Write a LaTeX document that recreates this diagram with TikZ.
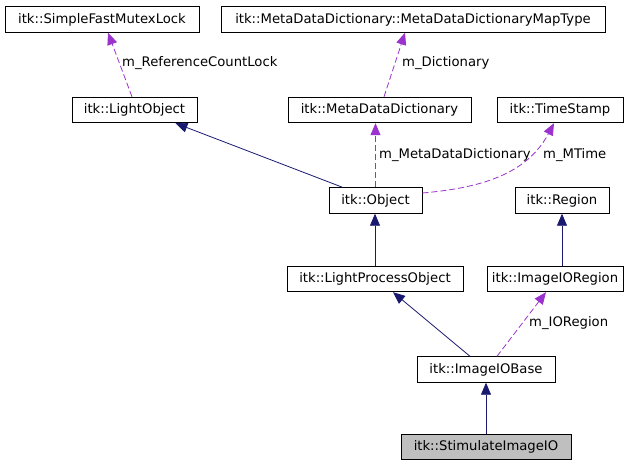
\documentclass[tikz,border=0pt]{standalone}
\usepackage{fontspec}
\setmainfont{DejaVu Sans}
\usetikzlibrary{
    positioning,      % relative placement
    arrows.meta,      % Triangle tips
    calc              % shifted anchors
}
\definecolor{inheritnavy}{HTML}{191970}
\definecolor{usagepurple}{HTML}{9A32CD}
\definecolor{focusgray}{HTML}{BFBFBF}

\begin{document}
\begin{tikzpicture}[
    x=1pt, y=-1pt,
    % Style for the class boxes
    class_box/.style={
        draw=black,
        line width=0.9pt,
        inner sep=0pt,
        minimum height=25.5pt,
        font=\fontsize{13.2}{16}\selectfont
    },
    % Style for the class the diagram is about
    focus_box/.style={
        class_box,
        fill=focusgray
    },
    % Style for inheritance arrows
    inherit_arrow/.style={
        draw=inheritnavy,
        line width=0.8pt,
        -{Triangle[length=12pt, width=10pt]}
    },
    % Style for member (usage) arrows
    usage_arrow/.style={
        draw=usagepurple,
        line width=0.8pt,
        dash pattern=on 6pt off 3pt,
        -{Triangle[length=12pt, width=10pt]}
    },
    % Style for the member names
    member_label/.style={
        anchor=west,
        inner sep=0pt,
        font=\fontsize{13.2}{16}\selectfont
    }
]
    \useasboundingbox (0,0) rectangle (641,464);

    % 1. The class boxes, row by row.
    \node[class_box, minimum width=194pt] (mutex_lock) at (102,19.5) {itk::SimpleFastMutexLock};
    \node[class_box, minimum width=384pt] (dict_map_type) at (413,19.5) {itk::MetaDataDictionary::MetaDataDictionaryMapType};

    \node[class_box, minimum width=125pt] (light_object) at (134.5,110) {itk::LightObject};
    \node[class_box, minimum width=183pt] (meta_dict) at (379.5,110) {itk::MetaDataDictionary};
    \node[class_box, minimum width=126pt] (time_stamp) at (560,110) {itk::TimeStamp};

    \node[class_box, minimum width=93pt] (itk_object) at (375.5,200.5) {itk::Object};
    \node[class_box, minimum width=94pt] (itk_region) at (562,200.5) {itk::Region};

    \node[class_box, minimum width=176pt] (light_process) at (375,279) {itk::LightProcessObject};
    \node[class_box, minimum width=136pt] (io_region) at (555,279) {itk::ImageIORegion};

    \node[class_box, minimum width=138pt] (io_base) at (486,369.5) {itk::ImageIOBase};
    \node[focus_box, minimum width=170pt, below=51pt of io_base] (stimulate_io) {itk::StimulateImageIO};

    % 2. Inheritance arrows (child to parent).
    \draw[inherit_arrow] ([xshift=14pt]itk_object.north west) -- ([xshift=-22pt]light_object.south east);
    \draw[inherit_arrow] (light_process.north) -- (light_process.north |- itk_object.south);
    \draw[inherit_arrow] (itk_region.south |- io_region.north) -- (itk_region.south);
    \draw[inherit_arrow] ([xshift=-16pt]io_base.north) -- ([xshift=18pt]light_process.south);
    \draw[inherit_arrow] (stimulate_io.north) -- (io_base.south);

    % 3. Member arrows, dashed, with the member names.
    \draw[usage_arrow] ([xshift=-2.5pt]light_object.north) -- ([xshift=6pt]mutex_lock.south);
    \node[member_label] (ref_count_label) at (122,63) {m\_ReferenceCountLock};

    \draw[usage_arrow] ([xshift=4.5pt]meta_dict.north) -- ([xshift=-8pt]dict_map_type.south);
    \node[member_label] (dictionary_label) at (402,63) {m\_Dictionary};

    \draw[usage_arrow] (itk_object.north) -- (itk_object.north |- meta_dict.south);
    \node[member_label] (meta_dict_label) at (379,155) {m\_MetaDataDictionary};

    \draw[usage_arrow] ([yshift=7.5pt]itk_object.east) to[out=5, in=-118] ([xshift=-6pt]time_stamp.south);
    \node[member_label] (mtime_label) at (543,155) {m\_MTime};

    \draw[usage_arrow] ([xshift=11pt]io_base.north) -- ([xshift=-9pt]io_region.south);
    \node[member_label] (io_region_label) at (529,323) {m\_IORegion};

\end{tikzpicture}
\end{document}
